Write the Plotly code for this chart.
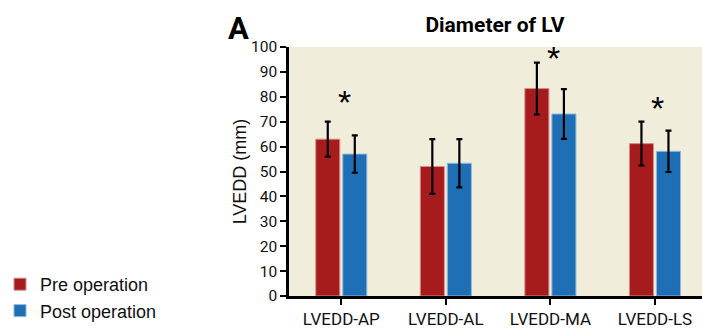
import plotly.graph_objects as go

categories = ["LVEDD-AP", "LVEDD-AL", "LVEDD-MA", "LVEDD-LS"]
pre_values = [63, 52, 83.3, 61.2]
pre_err = [7, 11, 10.4, 8.8]
post_values = [57, 53.3, 73.1, 58.1]
post_err = [7.5, 9.7, 10, 8.3]
star_cats = ["LVEDD-AP", "LVEDD-MA", "LVEDD-LS"]
star_y = [78, 95.5, 75.5]

RED = "#a61b1b"
BLUE = "#1f6fb7"
BG = "#f1eddb"
COND = "Roboto"

def cfont(size, weight="normal", color="#111"):
    return dict(size=size, family=COND, color=color, weight=weight)

fig = go.Figure()
fig.add_bar(x=categories, y=pre_values, name="Pre operation",
            marker=dict(color=RED, line=dict(color="#d98c8c", width=1)),
            error_y=dict(type="data", array=pre_err, color="black", thickness=2.2, width=3))
fig.add_bar(x=categories, y=post_values, name="Post operation",
            marker=dict(color=BLUE, line=dict(color="#8fb8dd", width=1)),
            error_y=dict(type="data", array=post_err, color="black", thickness=2.2, width=3))

for c, yv in zip(star_cats, star_y):
    fig.add_annotation(x=c, y=yv, text="*", showarrow=False, xshift=3,
                       font=dict(size=34, color="black", family="Liberation Sans, Arial"))

fig.add_annotation(text="A", xref="paper", yref="paper", x=-0.152, y=0.99,
                   xanchor="left", yanchor="bottom", showarrow=False,
                   font=cfont(31, weight="bold", color="black"))

fig.update_layout(
    width=702, height=329,
    margin=dict(l=289, r=0, t=47, b=33),
    paper_bgcolor="white", plot_bgcolor=BG,
    barmode="group", bargap=0.483, bargroupgap=0.11,
    title=dict(text="Diameter of LV", x=0.705, xanchor="center", y=0.925, yanchor="middle",
               font=cfont(21, weight="bold", color="black")),
    showlegend=True,
    legend=dict(xref="container", yref="container", x=0.0, y=0.0, xanchor="left", yanchor="bottom",
                font=dict(size=18, family="Liberation Sans, Arial, sans-serif", color="#111"),
                bgcolor="rgba(0,0,0,0)", itemwidth=30, tracegroupgap=2),
)
fig.update_xaxes(range=[-0.5, 3.45], showline=True, linecolor="black", linewidth=2.5,
                 ticks="outside", ticklen=6, tickwidth=2, tickcolor="black", automargin=False,
                 tickfont=cfont(17), showgrid=False)
fig.update_yaxes(range=[0, 100], dtick=10, showline=True, linecolor="black", linewidth=2.5,
                 ticks="outside", ticklen=6, tickwidth=2, tickcolor="black", automargin=False,
                 tickfont=cfont(15.5), showgrid=False, zeroline=False,
                 title=dict(text="LVEDD (mm)", font=dict(size=18, family="Liberation Sans, Arial, sans-serif", color="#111"), standoff=0))

fig.write_html("out.html", config={"displayModeBar": False},
               post_script="document.documentElement.style.overflow='hidden';document.body.style.margin='0';document.body.style.overflow='hidden';")
